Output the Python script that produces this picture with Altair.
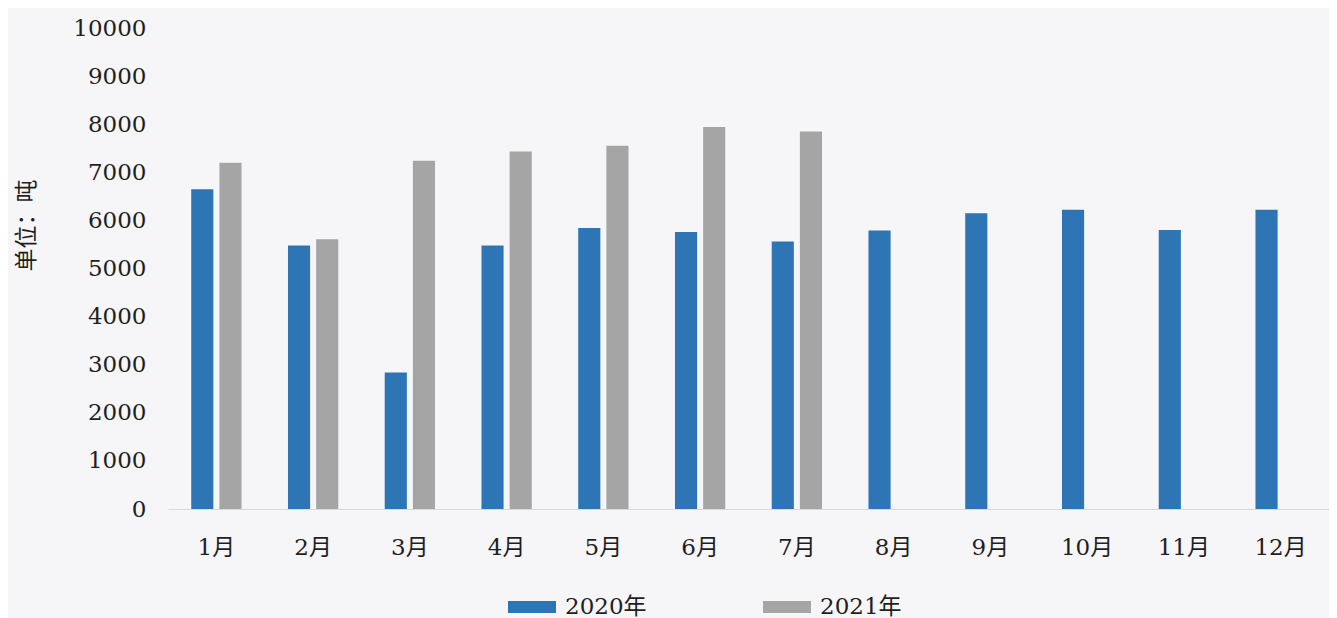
import altair as alt
import pandas as pd

months = ["1月", "2月", "3月", "4月", "5月", "6月", "7月", "8月", "9月", "10月", "11月", "12月"]
series = ["2020年", "2021年"]
v2020 = [6650, 5480, 2840, 5480, 5840, 5760, 5560, 5790, 6150, 6220, 5800, 6220]
v2021 = [7200, 5610, 7240, 7430, 7550, 7940, 7850]
y_ticks = [0, 1000, 2000, 3000, 4000, 5000, 6000, 7000, 8000, 9000, 10000]
colors = ["#2E75B6", "#A5A5A5"]

rows = []
for m, v in zip(months, v2020):
    rows.append({"month": m, "series": series[0], "value": v})
for m, v in zip(months, v2021):
    rows.append({"month": m, "series": series[1], "value": v})
df = pd.DataFrame(rows)

FONT = "DejaVu Serif, Noto Sans CJK SC"

chart = alt.Chart(df).mark_bar().encode(
    x=alt.X("month:N", sort=months,
            scale=alt.Scale(paddingInner=0.48, paddingOuter=0.24),
            axis=alt.Axis(title=None, labelAngle=0, ticks=False, domain=True,
                          domainColor="#D9D9D9", domainWidth=1, grid=False,
                          labelFont=FONT, labelFontSize=23, labelColor="#1F1F1F",
                          labelPadding=38, labelBaseline="middle")),
    xOffset=alt.XOffset("series:N", sort=series,
                        scale=alt.Scale(paddingInner=0.214, paddingOuter=0)),
    y=alt.Y("value:Q", scale=alt.Scale(domain=[0, 10000], nice=False),
            axis=alt.Axis(title="单位：吨", values=y_ticks, format="d", ticks=False,
                          domain=False, grid=False, labelFont=FONT, labelFontSize=23,
                          labelColor="#1F1F1F", labelPadding=22,
                          titleFont="Noto Sans CJK SC", titleFontSize=23,
                          titleFontWeight="normal", titleColor="#1F1F1F",
                          titleAngle=270, titleX=-142, titleY=197,
                          titleAlign="center", titleBaseline="middle")),
    color=alt.Color("series:N", sort=series,
                    scale=alt.Scale(domain=series, range=colors),
                    legend=alt.Legend(title=None, orient="none", direction="horizontal",
                                      legendX=340, legendY=555, padding=0,
                                      symbolType="M-1,-0.25H1V0.25H-1Z", symbolSize=2304,
                                      symbolStrokeWidth=0, symbolOpacity=1,
                                      labelFont=FONT, labelFontSize=23,
                                      labelColor="#1F1F1F", labelOffset=9,
                                      columnPadding=116)),
).properties(
    width=1161, height=481,
    autosize=alt.AutoSizeParams(type="none"),
    padding={"left": 160, "top": 20, "right": 0, "bottom": 109},
    background="#F6F6F8",
).configure_view(stroke=None)

chart.save("out.html", embed_options={"renderer": "svg", "actions": False})
